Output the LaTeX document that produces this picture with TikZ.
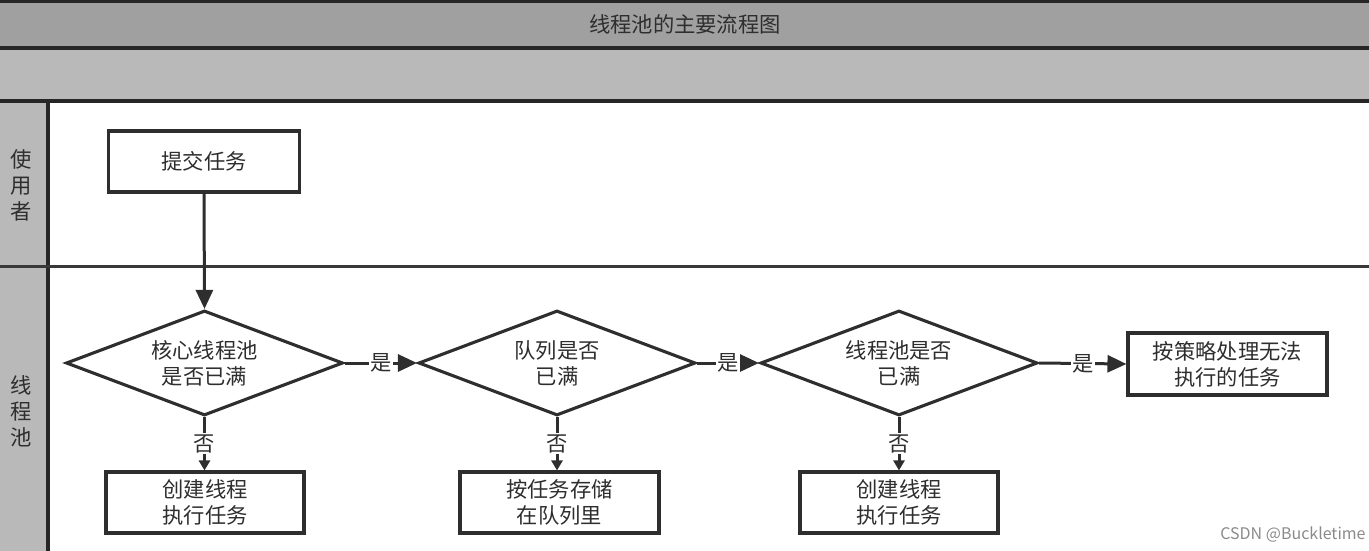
\documentclass[tikz,border=0pt]{standalone}
\usepackage{fontspec}
\setmainfont{Noto Sans CJK SC}
\usetikzlibrary{shapes.geometric,arrows.meta}
\definecolor{bandA}{HTML}{A0A0A0}
\definecolor{bandB}{HTML}{B9B9B9}
\definecolor{ink}{HTML}{2E2E2E}
\definecolor{wm}{HTML}{8A8A8A}
\begin{document}
\begin{tikzpicture}[x=1pt,y=-1pt,
  txt/.style={font=\fontsize{21.3}{26}\selectfont, text=ink, align=center},
  procbox/.style={txt, draw=ink, line width=3.1pt, fill=white, inner sep=0pt},
  decision/.style={txt, draw=ink, line width=3.1pt, fill=white, diamond, inner sep=0pt,
    minimum width=277pt, minimum height=105pt, aspect=2.6},
  flow/.style={draw=ink, line width=3pt, -{Triangle[length=19pt,width=17pt]}},
  flowsmall/.style={draw=ink, line width=3pt, -{Triangle[length=10pt,width=11pt]}},
  lbl/.style={font=\fontsize{21.3}{24}\selectfont, text=ink, fill=white, inner sep=1.5pt},
  sep/.style={draw=black!85, line width=3.8pt}
]
\useasboundingbox (0,0) rectangle (1369,551);
% bands
\fill[bandA] (0,0) rectangle (1369,48);
\fill[bandB] (0,48) rectangle (1369,101);
\fill[bandB] (0,101) rectangle (48,551);
\draw[sep] (0,1) -- (1369,1);
\draw[sep] (0,48) -- (1369,48);
\draw[sep] (0,101) -- (1369,101);
\draw[sep] (48,101) -- (48,551);
\draw[draw=ink!95, line width=3pt] (0,266) -- (1369,266);
\node[txt] (title) at (685,24) {线程池的主要流程图};
\node[txt, font=\fontsize{21.3}{26}\selectfont] (lane1) at (21,185) {使\\用\\者};
\node[txt, font=\fontsize{21.3}{26}\selectfont] (lane2) at (21,411) {线\\程\\池};
% nodes
\node[procbox, minimum width=191pt, minimum height=61pt] (submit) at (204,161.5) {提交任务};
\node[decision] (d1) at (204.5,363) {核心线程池\\是否已满};
\node[decision] (d2) at (557,363) {队列是否\\已满};
\node[decision] (d3) at (899,363) {线程池是否\\已满};
\node[procbox, minimum width=199pt, minimum height=62pt] (reject) at (1227.5,364) {按策略处理无法\\执行的任务};
\node[procbox, minimum width=198pt, minimum height=61pt] (b1) at (205,502.5) {创建线程\\执行任务};
\node[procbox, minimum width=199pt, minimum height=61pt] (b2) at (559.5,502.5) {按任务存储\\在队列里};
\node[procbox, minimum width=198pt, minimum height=61pt] (b3) at (899,502.5) {创建线程\\执行任务};
% connectors
\draw[flow] (submit.south) -- (d1.north);
\draw[flow] (d1.east) -- node[lbl] {是} (d2.west);
\draw[flow] (d2.east) -- node[lbl] {是} (d3.west);
\draw[flow] (d3.east) -- node[lbl] {是} (reject.west);
\draw[flowsmall] (d1.south) -- node[lbl] {否} (b1.north -| d1.south);
\draw[flowsmall] (d2.south) -- node[lbl] {否} (b2.north -| d2.south);
\draw[flowsmall] (d3.south) -- node[lbl] {否} (b3.north -| d3.south);
\node[font=\fontsize{16}{18}\selectfont, text=wm] (wmark) at (1293,535) {CSDN @Buckletime};
\end{tikzpicture}
\end{document}
